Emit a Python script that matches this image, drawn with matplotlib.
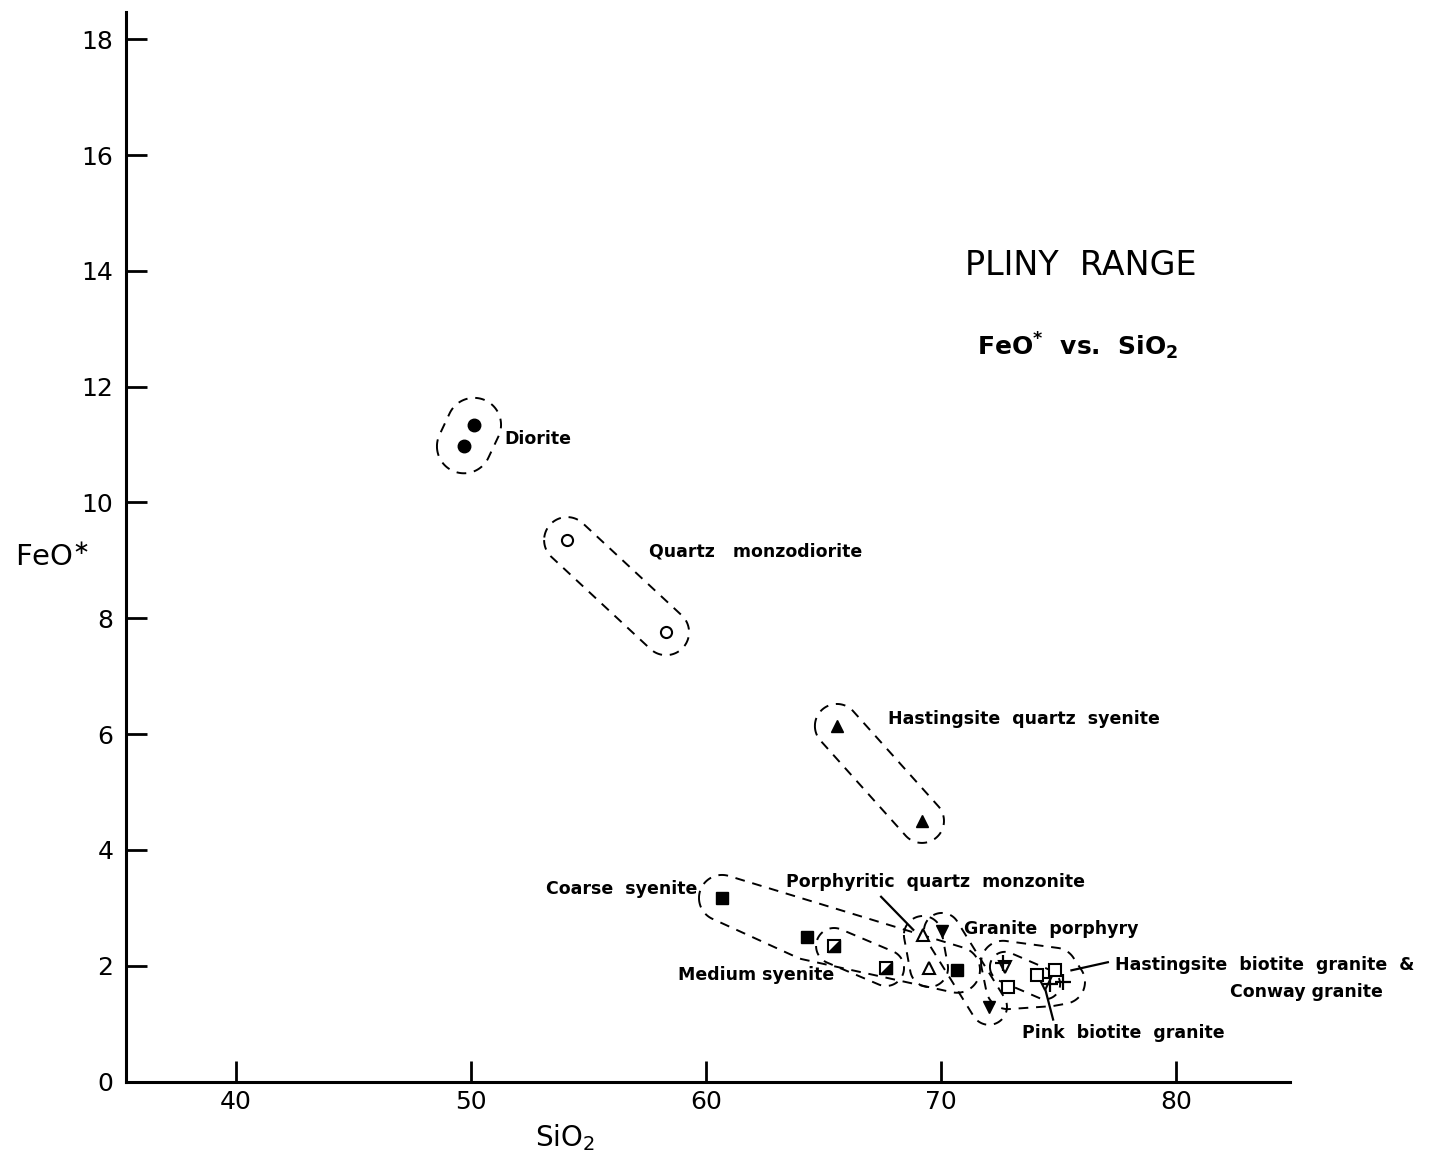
import numpy as np
import matplotlib
matplotlib.use("Agg")
import matplotlib.pyplot as plt
from matplotlib.path import Path

# --- data: SiO2 (wt%) and total iron as FeO* (wt%) per rock unit ---
diorite_si = [50.13, 49.70]
diorite_fe = [11.34, 10.97]

qmd_si = [54.09, 58.30]
qmd_fe = [9.35, 7.76]

hqs_si = [65.57, 69.19]
hqs_fe = [6.14, 4.50]

coarse_si = [60.68, 64.30, 70.68]
coarse_fe = [3.17, 2.50, 1.93]

medium_si = [65.45, 67.66]
medium_fe = [2.34, 1.96]

pqm_si = [69.23, 69.49]
pqm_fe = [2.53, 1.96]

gp_si = [70.04, 72.04]
gp_fe = [2.60, 1.29]

pink_si = [72.72, 74.43]
pink_fe = [1.98, 1.68]

hbg_si = [72.85, 74.09, 74.85]
hbg_fe = [1.63, 1.84, 1.93]

conway_si = [72.64, 74.64, 75.19]
conway_fe = [2.05, 1.68, 1.72]

x_ticks = [40, 50, 60, 70, 80]
y_ticks = [0, 2, 4, 6, 8, 10, 12, 14, 16, 18]

plt.rcParams["font.family"] = ["DejaVu Sans"]
plt.rcParams["mathtext.fontset"] = "dejavusans"

W, H = 1432, 1160
fig = plt.figure(figsize=(W / 100, H / 100), dpi=100)
ax = fig.add_axes([126 / W, 1 - 1081.5 / H, (1290 - 126) / W, (1081.5 - 12) / H])
ax.set_xlim(35.32, 84.85)
ax.set_ylim(0, 18.47)

for s in ("top", "right"):
    ax.spines[s].set_visible(False)
for s in ("left", "bottom"):
    ax.spines[s].set_linewidth(2.2)

ax.set_xticks(x_ticks)
ax.set_yticks(y_ticks)
ax.tick_params(direction="in", length=15, width=2.0, labelsize=18)
ax.tick_params(axis="y", pad=9)
ax.tick_params(axis="x", pad=6)

# --- dashed envelopes: padded convex outline around a group, in pixel space ---
def _hull(pts):
    pts = sorted(map(tuple, pts))
    def cross(o, a, b):
        return (a[0] - o[0]) * (b[1] - o[1]) - (a[1] - o[1]) * (b[0] - o[0])
    lower, upper = [], []
    for p in pts:
        while len(lower) >= 2 and cross(lower[-2], lower[-1], p) <= 0:
            lower.pop()
        lower.append(p)
    for p in reversed(pts):
        while len(upper) >= 2 and cross(upper[-2], upper[-1], p) <= 0:
            upper.pop()
        upper.append(p)
    return np.array(lower[:-1] + upper[:-1])

def envelope(xs, ys, pad):
    disp = ax.transData.transform(np.column_stack([xs, ys]))
    ang = np.linspace(0, 2 * np.pi, 90, endpoint=False)
    ring = np.column_stack([np.cos(ang), np.sin(ang)]) * pad
    cloud = np.vstack([p + ring for p in disp])
    hull = _hull(cloud)
    hull = np.vstack([hull, hull[:1]])
    data = ax.transData.inverted().transform(hull)
    ax.plot(data[:, 0], data[:, 1], color="black", lw=1.4,
            linestyle=(0, (5, 4)), solid_capstyle="butt")

envelope(diorite_si, diorite_fe, 27)
envelope(qmd_si, qmd_fe, 23)
envelope(hqs_si, hqs_fe, 22)
envelope(coarse_si, coarse_fe, 23)
envelope(medium_si, medium_fe, 18)
envelope(pqm_si, pqm_fe, 19)
envelope(gp_si, gp_fe, 18)
envelope(hbg_si + conway_si, hbg_fe + conway_fe, 22)
envelope(pink_si, pink_fe, 15)

# --- symbols ---
k = "black"
ax.plot(diorite_si, diorite_fe, "o", ms=9, color=k, ls="none")
ax.plot(qmd_si, qmd_fe, "o", ms=8, mfc="white", mec=k, mew=1.5, ls="none")
ax.plot(hqs_si, hqs_fe, "^", ms=9, color=k, ls="none")
ax.plot(coarse_si, coarse_fe, "s", ms=8, color=k, ls="none")
lower_right = Path([(-1, -1), (1, -1), (1, 1), (-1, -1)],
                   [Path.MOVETO, Path.LINETO, Path.LINETO, Path.CLOSEPOLY])
ax.plot(medium_si, medium_fe, "s", ms=8, mfc="white", mec=k, mew=1.5, ls="none")
ax.plot(medium_si, medium_fe, marker=lower_right, ms=8, color=k, ls="none")
ax.plot(pqm_si, pqm_fe, "^", ms=9, mfc="white", mec=k, mew=1.5, ls="none")
ax.plot(gp_si, gp_fe, "v", ms=9, color=k, ls="none")
ax.plot(pink_si, pink_fe, "v", ms=9, mfc="white", mec=k, mew=1.5, ls="none")
ax.plot(hbg_si, hbg_fe, "s", ms=8, mfc="white", mec=k, mew=1.5, ls="none")
ax.plot(conway_si, conway_fe, "+", ms=12, mec=k, mew=1.6, ls="none")

# --- group labels ---
lab = dict(fontsize=12.5, fontweight="bold", va="center")
ax.text(51.40, 11.10, "Diorite", ha="left", **lab)
ax.text(57.57, 9.15, "Quartz   monzodiorite", ha="left", **lab)
ax.text(67.74, 6.26, "Hastingsite  quartz  syenite", ha="left", **lab)
ax.text(59.62, 3.33, "Coarse  syenite", ha="right", **lab)
ax.text(63.40, 3.45, "Porphyritic  quartz  monzonite", ha="left", **lab)
ax.text(70.98, 2.63, "Granite  porphyry", ha="left", **lab)
ax.text(65.45, 1.84, "Medium syenite", ha="right", **lab)
ax.text(77.40, 2.01, "Hastingsite  biotite  granite  &", ha="left", **lab)
ax.text(82.30, 1.55, "Conway granite", ha="left", **lab)
ax.text(73.45, 0.84, "Pink  biotite  granite", ha="left", **lab)

# leader lines
ax.plot([67.45, 68.82], [3.19, 2.62], color=k, lw=1.6)
ax.plot([74.77, 74.45], [1.07, 1.57], color=k, lw=1.6)
ax.plot([75.55, 77.10], [1.92, 2.06], color=k, lw=1.6)

# --- title block ---
ax.text(75.96, 14.10, "PLINY  RANGE", ha="center", va="center", fontsize=24,
        fontweight="normal")
ax.text(75.83, 12.70, r"FeO$^{\mathbf{*}}$  vs.  SiO$_{\mathbf{2}}$", ha="center",
        va="center", fontsize=18, fontweight="bold")

# --- axis titles ---
fig.text(15 / W, 1 - 558 / H, r"FeO$^{\ast}$", ha="left", va="center", fontsize=21)
fig.text(535 / W, 1 - 1138 / H, r"SiO$_2$", ha="left", va="center", fontsize=20)

fig.savefig("out.png", dpi=100, facecolor="white")
